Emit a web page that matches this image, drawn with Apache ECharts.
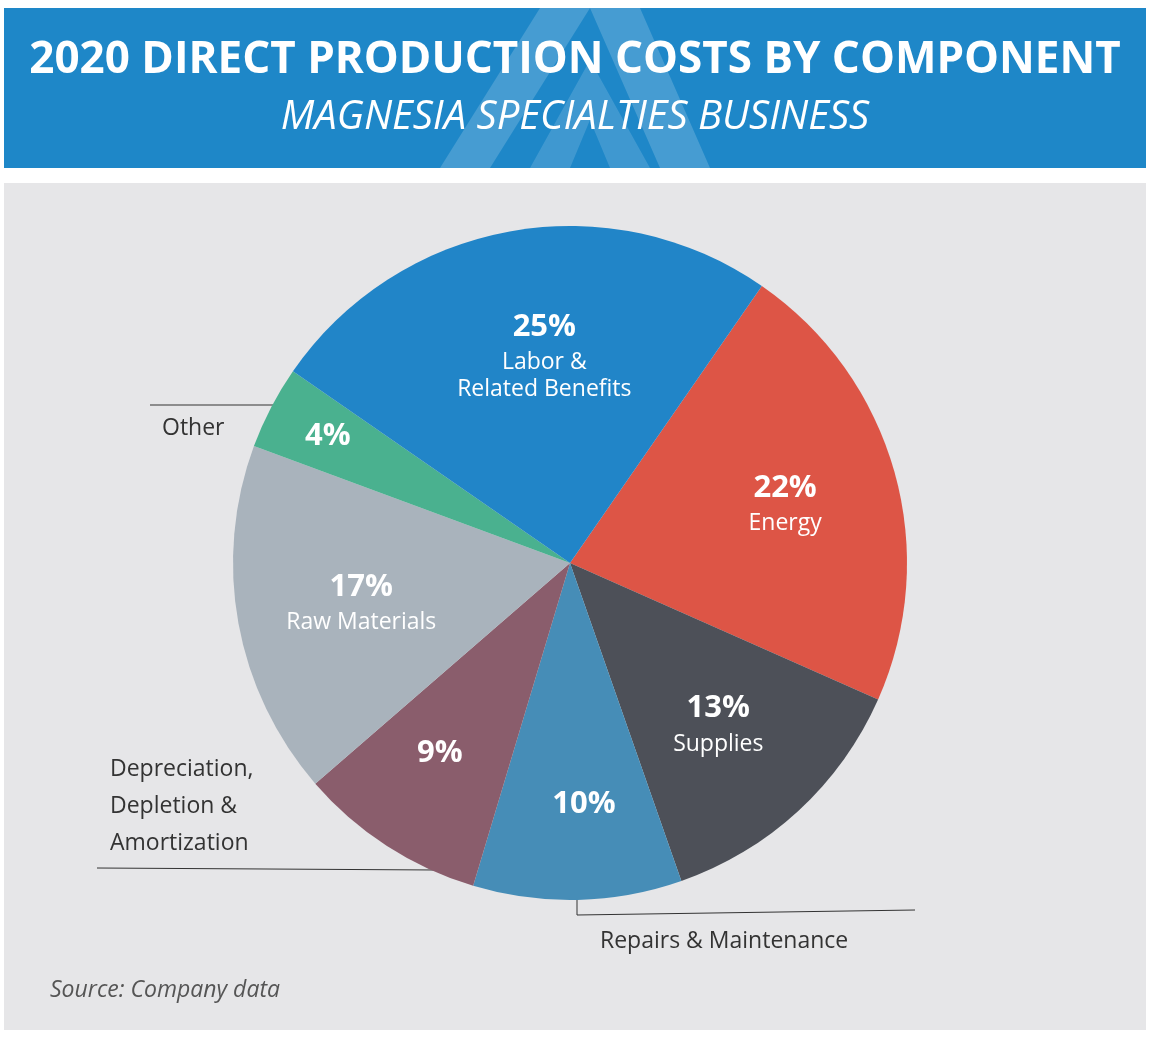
<!DOCTYPE html>
<html><head><meta charset="utf-8">
<script src="https://cdn.jsdelivr.net/npm/echarts@6/dist/echarts.min.js"></script>
<style>html,body{margin:0;padding:0;background:#fff}#main{width:1150px;height:1038px}</style>
</head><body><div id="main"></div>
<script>
// slices, clockwise from the Energy edge
var names = ["Energy","Supplies","Repairs & Maintenance","Depreciation, Depletion & Amortization","Raw Materials","Other","Labor &\nRelated Benefits"];
var values = [22,13,10,9,17,4,25];
var colors = ["#dd5546","#4d5058","#468db7","#8a5d6c","#a9b3bc","#4ab18f","#2185c8"];
var insideName = [true,true,false,false,true,false,true];
var offsets = [[50,-15],[32,33],[10,70],[-37,46],[-40,7],[-90,-48],[5,-40]];

var font = "Open Sans";
var data = names.map(function(n,i){
    return {
        name:n, value:values[i],
        itemStyle:{color:colors[i]},
        label:{
            offset:offsets[i],
            formatter: insideName[i] ? "{p|{c}%}\n{n|{b}}" : "{p|{c}%}"
        }
    };
});

var option = {
    backgroundColor:"#fff",
    graphic:[
        {type:"rect",shape:{x:4,y:8,width:1142,height:160},style:{fill:"#1e87c8"},z:0},
        {type:"polygon",shape:{points:[[440,168],[540,8],[590,8],[490,168]]},style:{fill:"rgba(255,255,255,0.18)"},z:1},
        {type:"polygon",shape:{points:[[590,8],[640,8],[710,168],[660,168]]},style:{fill:"rgba(255,255,255,0.18)"},z:1},
        {type:"polygon",shape:{points:[[530,168],[590,60],[650,168],[610,168],[590,120],[570,168]]},style:{fill:"rgba(255,255,255,0.15)"},z:1},
        {type:"text",x:575,y:60,style:{text:"2020 DIRECT PRODUCTION COSTS BY COMPONENT",fill:"#fff",font:"bold 44px '"+font+"'",textAlign:"center",textVerticalAlign:"middle"},z:2},
        {type:"text",x:575,y:118,style:{text:"MAGNESIA SPECIALTIES BUSINESS",fill:"#fff",font:"italic 40px '"+font+"'",textAlign:"center",textVerticalAlign:"middle"},z:2},
        {type:"rect",shape:{x:4,y:183,width:1142,height:847},style:{fill:"#e6e6e8"},z:0},
        {type:"text",x:50,y:990,style:{text:"Source: Company data",fill:"#555",font:"italic 23px '"+font+"'",textVerticalAlign:"middle"},z:2},
        {type:"polyline",shape:{points:[[150,405],[278,405]]},style:{stroke:"#333",lineWidth:1},z:2},
        {type:"text",x:162,y:428,style:{text:"Other",fill:"#333",font:"23px '"+font+"'",textVerticalAlign:"middle"},z:2},
        {type:"polyline",shape:{points:[[97,868],[436,870]]},style:{stroke:"#333",lineWidth:1},z:2},
        {type:"text",x:110,y:806,style:{text:"Depreciation,\nDepletion &\nAmortization",fill:"#333",font:"23px '"+font+"'",lineHeight:37,textVerticalAlign:"middle"},z:2},
        {type:"polyline",shape:{points:[[577,896],[577,915],[915,910]]},style:{stroke:"#333",lineWidth:1},z:2},
        {type:"text",x:600,y:941,style:{text:"Repairs & Maintenance",fill:"#333",font:"23px '"+font+"'",textVerticalAlign:"middle"},z:2}
    ],
    series:[{
        type:"pie",
        center:[570,563],
        radius:337,
        startAngle:55.3,
        clockwise:true,
        animation:false,
        silent:true,
        label:{
            position:"inside",
            color:"#fff",
            align:"center",
            rich:{
                p:{fontFamily:font,fontWeight:"bold",fontSize:31,color:"#fff",lineHeight:44},
                n:{fontFamily:font,fontSize:23,color:"#fff",lineHeight:27}
            }
        },
        labelLine:{show:false},
        data:data
    }]
};

var chart = echarts.init(document.getElementById("main"));
chart.setOption(option);
</script>
</body></html>
